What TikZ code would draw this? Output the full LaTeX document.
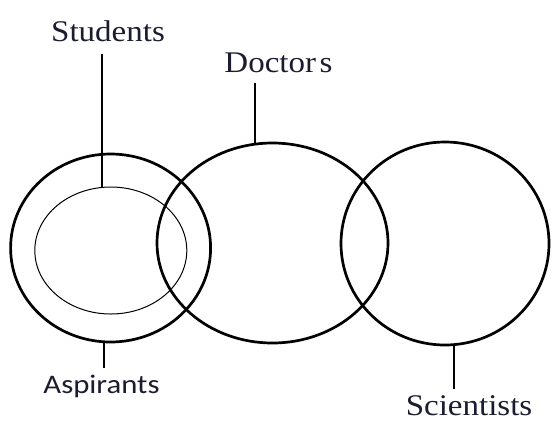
\documentclass[tikz,border=0pt]{standalone}
\usepackage{fontspec}
\usetikzlibrary{shapes.geometric}
\newfontfamily\serifLab[FakeStretch=1.1]{Liberation Serif}
\newfontfamily\sansLab[FakeStretch=1.15]{Carlito}
\definecolor{labtext}{RGB}{28,28,48}
\begin{document}
\begin{tikzpicture}[x=1pt,y=-1pt,
  venn/.style={ellipse, draw=black, line width=2.7pt, inner sep=0pt, outer sep=0pt},
  inner/.style={ellipse, draw=black, line width=1pt, inner sep=0pt, outer sep=0pt},
  serlab/.style={anchor=base, inner sep=0pt, text=labtext, font=\serifLab\fontsize{30}{36}\selectfont},
  sanslab/.style={anchor=base, inner sep=0pt, text=labtext, font=\sansLab\fontsize{26.75}{32}\selectfont},
  leader/.style={draw=black, line width=2.7pt},
  thinleader/.style={draw=black, line width=1.3pt}]
\useasboundingbox (0,0) rectangle (553,424);
\fill[white] (0,0) rectangle (553,424);
% circles
\node[venn, minimum width=200pt, minimum height=188pt] (asp) at (110.6,248) {};
\node[inner, minimum width=152pt, minimum height=127pt] (stu) at (110.8,250.5) {};
\node[venn, minimum width=231pt, minimum height=200pt] (doc) at (272.5,243) {};
\node[venn, minimum width=208pt, minimum height=203pt] (sci) at (445,243.5) {};
% labels
\node[serlab] (students) at (108,41) {Students};
\node[serlab] (doctors) at (278.5,72) {\spaceskip=0.12em Doctor s};
\node[sanslab] (aspirants) at (101.5,393) {Aspirants};
\node[serlab] (scientists) at (469,415) {Scientists};
% leaders
\draw[thinleader, shorten >=13pt] (stu.98) -- (stu.98 |- students.base);
\draw[leader, shorten >=11pt] (doc.100) -- (doc.100 |- doctors.base);
\draw[leader, shorten >=25pt] (asp.266.6) -- (asp.266.6 |- aspirants.base);
\draw[leader, shorten >=26pt] (sci.275.5) -- (sci.275.5 |- scientists.base);
\end{tikzpicture}
\end{document}
